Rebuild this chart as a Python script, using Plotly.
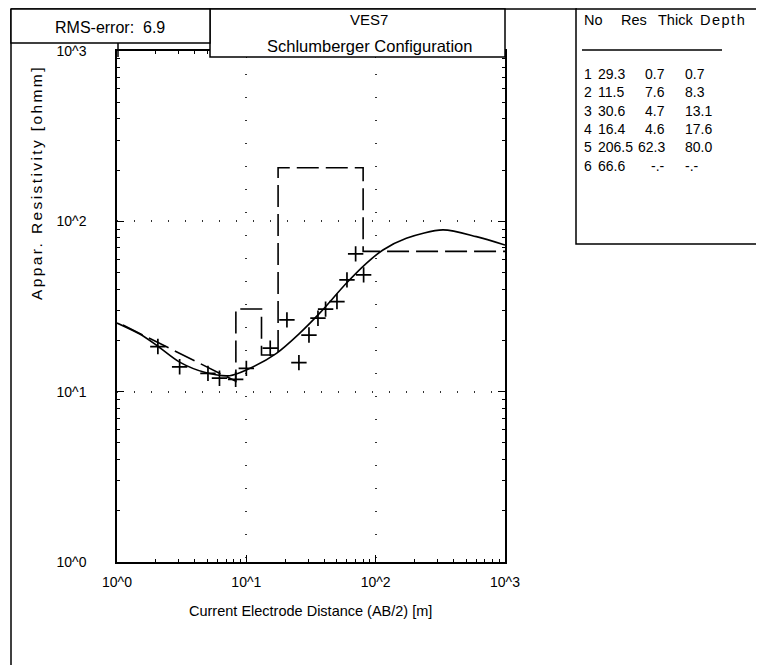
import plotly.graph_objects as go

# ---------------- data ----------------
model_x = [1.0, 1.5, 2.01, 3.05, 4.9, 7.43, 10.0, 17.1, 25.8, 36.9, 59.3, 84.7, 113.8, 172.6, 331.0, 601.0, 1000.0]
model_y = [25.3, 21.8, 18.8, 14.9, 12.9, 12.4, 13.4, 16.8, 22.0, 28.9, 43.3, 56.7, 67.9, 79.6, 89.1, 81.3, 72.6]

obs_x = [2.07, 3.05, 5.05, 6.2, 8.27, 10.0, 15.3, 20.6, 25.5, 30.5, 35.8, 41.0, 50.2, 60.0, 70.0, 80.7]
obs_y = [18.4, 14.0, 12.8, 12.0, 11.8, 13.7, 18.0, 26.4, 14.8, 21.5, 27.0, 30.5, 33.8, 45.3, 64.4, 48.5]

layer_no = ["1", "2", "3", "4", "5", "6"]
layer_res = [29.3, 11.5, 30.6, 16.4, 206.5, 66.6]
layer_thick = ["0.7", "7.6", "4.7", "4.6", "62.3", "-.-"]
layer_depth = ["0.7", "8.3", "13.1", "17.6", "80.0", "-.-"]
depth_vals = [0.7, 8.3, 13.1, 17.6, 80.0]

tick_vals = [1, 10, 100, 1000]
tick_text = ["10^0", "10^1", "10^2", "10^3"]
minor_vals = [m * 10 ** e for e in range(3) for m in range(2, 10)]

rms_text = "RMS-error:  6.9"
title1 = "VES7"
title2 = "Schlumberger Configuration"
xtitle = "Current Electrode Distance (AB/2) [m]"
ytitle = "Appar. Resistivity [ohmm]"
x_end = 1000.0

# step line of the layered model
step_x = [depth_vals[0]]
step_y = [layer_res[0]]
for i, d in enumerate(depth_vals[1:], start=1):
    step_x += [d, d]
    step_y += [layer_res[i], layer_res[i + 1]]
step_x.append(x_end)
step_y.append(layer_res[-1])

# ---------------- layout geometry ----------------
OFF = 8                      # page body margin
W, H = 764 - OFF, 665 - OFF
L, R, T, B = 117, 505, 51, 562   # plot area in window pixels
PW, PH = R - L, B - T


def fx(x):
    return (x - L) / PW


def fy(y):
    return (B - y) / PH


FONT = "Liberation Sans, Arial, sans-serif"

fig = go.Figure()
fig.add_trace(go.Scatter(x=step_x, y=step_y, mode="lines",
                         line=dict(color="black", width=1.6, dash="22px,7px"),
                         showlegend=False))
fig.add_trace(go.Scatter(x=model_x, y=model_y, mode="lines",
                         line=dict(color="black", width=1.6, shape="spline", smoothing=0.8),
                         showlegend=False))
fig.add_trace(go.Scatter(x=obs_x, y=obs_y, mode="markers",
                         marker=dict(symbol="cross-thin", size=11,
                                     line=dict(color="black", width=1.7)),
                         showlegend=False))

axis_common = dict(
    type="log", tickvals=tick_vals, ticktext=tick_text,
    showline=True, linecolor="black", linewidth=1.5, mirror="ticks",
    ticks="inside", ticklen=7, tickcolor="black", tickwidth=1,
    showgrid=True, gridcolor="#333", gridwidth=1.5,
    zeroline=False,
    minor=dict(ticks="inside", ticklen=3, tickcolor="black", tickvals=minor_vals, showgrid=False),
    tickfont=dict(family=FONT, size=14, color="black"),
)
fig.update_xaxes(range=[0, 3], ticklabelstandoff=6, griddash="1px,22px", **axis_common)
fig.update_yaxes(range=[0, 3], ticklabelstandoff=26, griddash="1px,16px", **axis_common)

shapes = []
line_k = dict(color="black", width=1.5)


def rect(x0, y0, x1, y1):
    shapes.append(dict(type="rect", xref="paper", yref="paper",
                       x0=fx(x0), x1=fx(x1), y0=fy(y1), y1=fy(y0),
                       line=line_k, fillcolor="white", layer="above"))


def seg(x0, y0, x1, y1):
    shapes.append(dict(type="line", xref="paper", yref="paper",
                       x0=fx(x0), x1=fx(x1), y0=fy(y0), y1=fy(y1),
                       line=line_k, layer="above"))


seg(11, 9, 11, 670)          # outer frame left
seg(11, 9, 577, 9)           # outer frame top
rect(210, 9, 505, 57)        # title box
rect(11, 9, 210, 43)         # RMS box
seg(118, 43, 118, 57)
rect(576, 9, 775, 244)       # table box
seg(582, 50, 722, 50)        # table underline

ann = []


def text(x, y, s, xa="center", size=15):
    ann.append(dict(x=fx(x), y=fy(y), xref="paper", yref="paper", text=s,
                    showarrow=False, xanchor=xa, yanchor="middle",
                    font=dict(family=FONT, size=size, color="black")))


text(110, 27, rms_text, size=16)
text(369, 19, title1, size=15)
text(369, 46, title2, size=16.5)
text(310, 611, xtitle, size=14.5)
ann.append(dict(x=fx(36), y=fy(183), xref="paper", yref="paper",
                text='<span style="letter-spacing:2.4px">' + ytitle + '</span>',
                showarrow=False, textangle=-90, xanchor="center", yanchor="middle",
                font=dict(family=FONT, size=15.5, color="black")))

text(582, 20, "No", xa="left", size=14.5)
text(634, 20, "Res", size=14.5)
text(675, 20, "Thick", size=14.5)
text(698, 20, '<span style="letter-spacing:1.5px">Depth</span>', xa="left", size=14.5)
row_y0, row_dy = 74, 18.3
for i in range(6):
    yy = row_y0 + i * row_dy
    text(588, yy, layer_no[i], size=14)
    text(596, yy, f"{layer_res[i]:.1f}", xa="left", size=14)
    text(667, yy, layer_thick[i], xa="right", size=14)
    text(683, yy, layer_depth[i], xa="left", size=14)

fig.update_layout(
    width=W, height=H,
    margin=dict(l=L - OFF, r=W - (R - OFF), t=T - OFF, b=H - (B - OFF)),
    paper_bgcolor="white", plot_bgcolor="white",
    shapes=shapes, annotations=ann, showlegend=False,
)

fig.write_html("out.html")
